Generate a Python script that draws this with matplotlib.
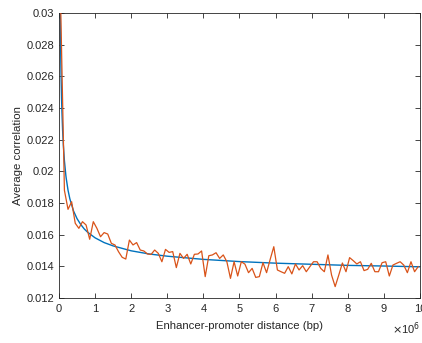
import numpy as np
import matplotlib
matplotlib.use("Agg")
import matplotlib.pyplot as plt
from matplotlib.ticker import FuncFormatter

# Binned enhancer-promoter distances (Mb, bin centres) and mean correlation per bin
distance_mb = np.round(np.arange(100) * 0.1 + 0.05, 2)
avg_corr = [
    0.0300, 0.0188, 0.0176, 0.01808, 0.01672, 0.0164, 0.01682, 0.01661, 0.01571, 0.01682,
    0.0164, 0.01587, 0.01613, 0.01604, 0.01545, 0.01535, 0.01492, 0.01457, 0.01446, 0.01566,
    0.01535, 0.0155, 0.01503, 0.01497, 0.01478, 0.01475, 0.01503, 0.01482, 0.01429, 0.01507,
    0.01488, 0.01493, 0.01392, 0.01482, 0.0145, 0.01476, 0.01415, 0.01476, 0.01478, 0.01497,
    0.01335, 0.01467, 0.01472, 0.01486, 0.0145, 0.01472, 0.01429, 0.01324, 0.01429, 0.01339,
    0.01429, 0.01414, 0.0136, 0.01387, 0.0133, 0.01335, 0.01423, 0.0136, 0.01444, 0.01524,
    0.01377, 0.01366, 0.01356, 0.01398, 0.01352, 0.01415, 0.01377, 0.01404, 0.01366, 0.01398,
    0.01429, 0.01429, 0.01387, 0.01366, 0.01472, 0.01345, 0.01272, 0.01345, 0.01421, 0.01366,
    0.01455, 0.01436, 0.01415, 0.01429, 0.01373, 0.01381, 0.01419, 0.01366, 0.01366, 0.01423,
    0.01429, 0.01339, 0.01408, 0.01419, 0.01429, 0.01408, 0.0136, 0.01429, 0.01366, 0.01398,
]

# Fitted decay curve (Mb, correlation)
fit_mb = [0.035, 0.04, 0.05, 0.06, 0.07, 0.08, 0.1, 0.12, 0.15, 0.19, 0.2, 0.25, 0.3,
          0.4, 0.5, 0.6, 0.7, 0.8, 1.0, 1.25, 1.5, 2.0, 2.5, 3.0, 4.0, 5.0, 6.0, 7.0,
          8.0, 9.0, 10.0]
fit_corr = [0.0302, 0.02895, 0.02708, 0.02573, 0.02468, 0.02385, 0.02259, 0.02167,
            0.02067, 0.01974, 0.01956, 0.01881, 0.01827, 0.01751, 0.01701, 0.01665,
            0.01636, 0.01614, 0.0158, 0.0155, 0.01529, 0.01498, 0.01478, 0.01464,
            0.01444, 0.0143, 0.0142, 0.01413, 0.01406, 0.01402, 0.01397]

x_ticks = list(range(0, 11))
y_ticks = [0.012, 0.014, 0.016, 0.018, 0.02, 0.022, 0.024, 0.026, 0.028, 0.03]
y_tick_labels = ["0.012", "0.014", "0.016", "0.018", "0.02", "0.022", "0.024",
                 "0.026", "0.028", "0.03"]

plt.rcParams["font.family"] = ["Liberation Sans", "DejaVu Sans"]
text_color = "#262626"

fig = plt.figure(figsize=(4.22, 3.43), dpi=100)
ax = fig.add_axes([59 / 422, 1 - 298 / 343, 361 / 422, 285 / 343])

bp = 1e6
ax.plot(np.array(fit_mb) * bp, fit_corr, color="#0072BD", lw=1.0, zorder=2)
ax.plot(distance_mb * bp, avg_corr, color="#D95319", lw=0.9, zorder=3)

ax.set_xlim(0, 10 * bp)
ax.set_ylim(0.012, 0.03)
ax.set_xticks([t * bp for t in x_ticks])
ax.xaxis.set_major_formatter(FuncFormatter(lambda v, p: f"{v / bp:g}"))
ax.set_yticks(y_ticks)
ax.set_yticklabels(y_tick_labels)

ax.tick_params(direction="in", length=3.5, width=0.6, colors=text_color,
               labelsize=8, top=True, right=True, pad=3.6)
ax.tick_params(axis="x", pad=4.5)
for s in ax.spines.values():
    s.set_color(text_color)
    s.set_linewidth(0.6)

ax.set_xlabel("Enhancer-promoter distance (bp)", fontsize=8.2, color=text_color,
              labelpad=5)
ax.set_ylabel("Average correlation", fontsize=8.2, color=text_color, labelpad=2.5)

ax.text(1.0, -0.08, r"$\times$10$^{6}$", transform=ax.transAxes, ha="right",
        va="top", fontsize=8, color=text_color)

fig.savefig("out.png", dpi=100)
